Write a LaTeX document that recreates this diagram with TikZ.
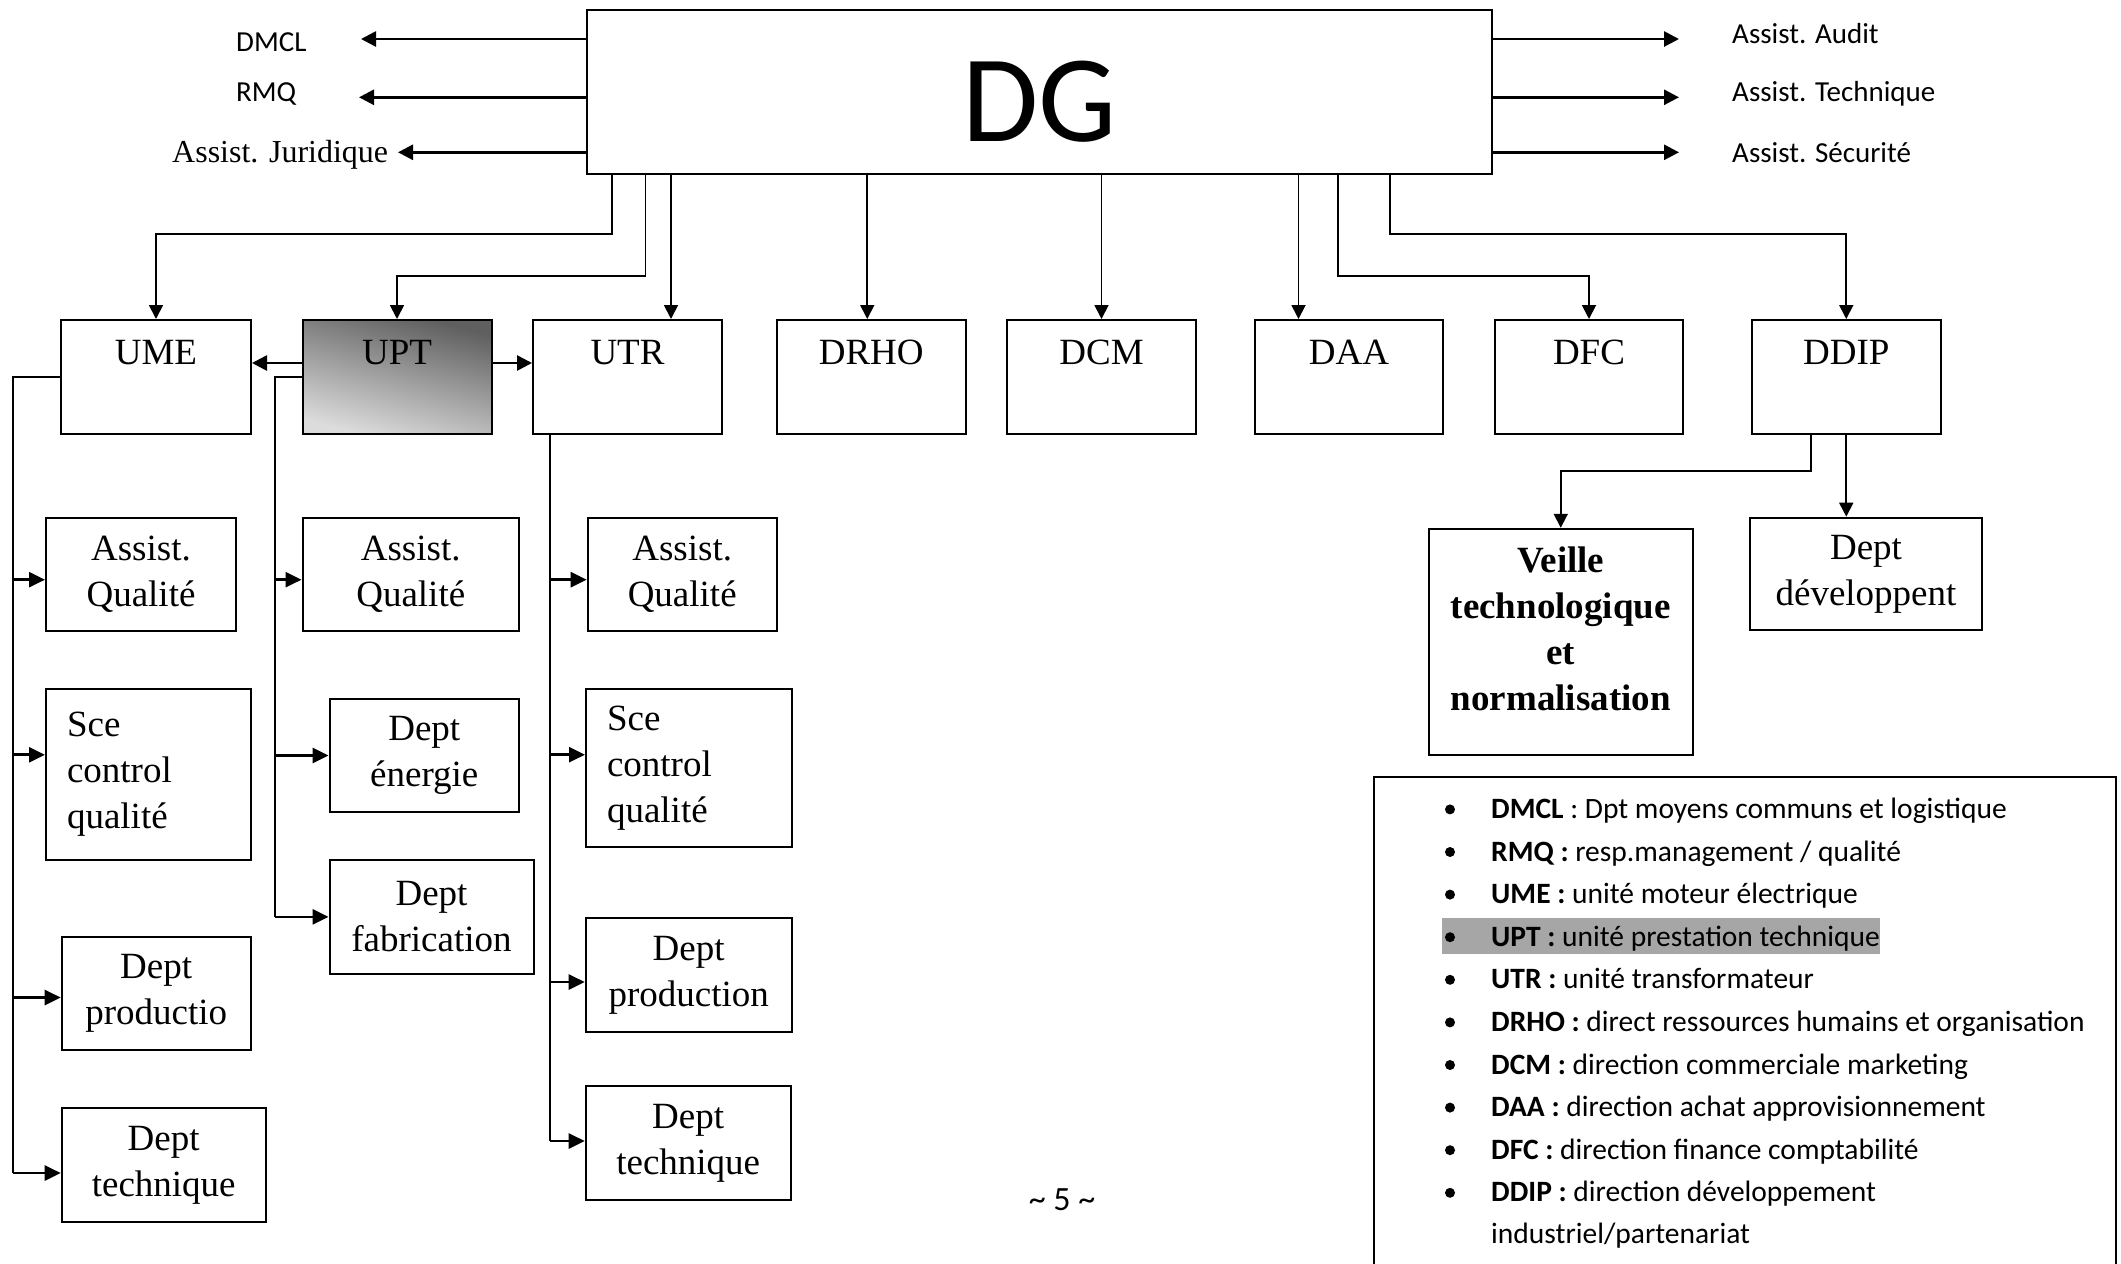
\documentclass[tikz,border=0pt]{standalone}
\usepackage{fontspec}
\setmainfont{Liberation Serif}
\newfontfamily\calfont{Carlito}
\usetikzlibrary{arrows.meta}
\definecolor{uptdark}{RGB}{95,95,95}
\definecolor{uptlight}{RGB}{220,220,220}
\definecolor{hlgray}{RGB}{166,166,166}
\newcommand\tnrfont{\fontsize{37}{46}\selectfont}
\newcommand\tnrsmall{\fontsize{32}{38}\selectfont}
\newcommand\calsmall{\calfont\fontsize{29}{35}\selectfont}
\newcommand\callegend{\calfont\fontsize{29.5}{36}\selectfont}
\newcommand\dgfont{\calfont\fontsize{124}{130}\selectfont}
\begin{document}
\begin{tikzpicture}[x=1pt,y=-1pt,
  box/.style={draw, line width=2pt, inner sep=0pt, anchor=north west, font=\tnrfont, align=center},
  unitbox/.style={box, text height=25pt, text depth=51pt, minimum height=114pt},
  scebox/.style={box, align=left, inner xsep=21pt},
  conn/.style={line width=1.8pt},
  arr/.style={line width=1.8pt, -{Triangle[length=14pt,width=14pt]}},
  bigarr/.style={line width=2.7pt, -{Triangle[length=15pt,width=15pt]}},
  stub/.style={line width=2.7pt, -{Triangle[length=16pt,width=15pt]}},
  sidetxt/.style={anchor=base west, inner sep=0pt, font=\calsmall},
  legtext/.style={anchor=base west, inner sep=0pt, font=\callegend},
  bullet/.style={circle, fill, inner sep=0pt, minimum size=10pt}
]
\useasboundingbox (0,0) rectangle (2121,1264);

% ---------- DG ----------
\node[box, minimum width=905pt, minimum height=164pt, font=\dgfont, text height=99pt, text depth=0pt] (dg) at (586,9) {DG};

% side labels
\node[sidetxt] (dmcl) at (236,51.7) {DMCL};
\node[sidetxt] (rmq) at (236,101.7) {RMQ};
\node[sidetxt, font=\tnrsmall] (jur) at (172,162.7) {Assist. Juridique};
\node[sidetxt] (audit) at (1732,43.3) {Assist. Audit};
\node[sidetxt] (techn) at (1732,101.7) {Assist. Technique};
\node[sidetxt] (secu) at (1732,162.3) {Assist. Sécurité};

\coordinate (eDMCL) at (361,39);
\coordinate (eRMQ) at (359,97.3);
\coordinate (eJUR) at (398,152.3);
\coordinate (eAUD) at (1679,39);
\coordinate (eTEC) at (1679,97.3);
\coordinate (eSEC) at (1679,152.3);
\draw[bigarr] (dg.west |- eDMCL) -- (eDMCL);
\draw[bigarr] (dg.west |- eRMQ) -- (eRMQ);
\draw[bigarr] (dg.west |- eJUR) -- (eJUR);
\draw[bigarr] (dg.east |- eAUD) -- (eAUD);
\draw[bigarr] (dg.east |- eTEC) -- (eTEC);
\draw[bigarr] (dg.east |- eSEC) -- (eSEC);

% ---------- top row ----------
\node[unitbox, minimum width=190pt] (ume) at (60,319) {UME};
\node[unitbox, minimum width=189pt, top color=uptdark, bottom color=uptlight, shading angle=-15] (upt) at (301.5,319) {UPT};
\node[unitbox, minimum width=189pt] (utr) at (532,319) {UTR};
\node[unitbox, minimum width=188.5pt] (drho) at (776,319) {DRHO};
\node[unitbox, minimum width=189pt] (dcm) at (1006,319) {DCM};
\node[unitbox, minimum width=188pt] (daa) at (1254,319) {DAA};
\node[unitbox, minimum width=188pt] (dfc) at (1494,319) {DFC};
\node[unitbox, minimum width=188.5pt] (ddip) at (1751,319) {DDIP};

% DG -> top row
\draw[arr] ([xshift=26pt]dg.south west) |- ([yshift=85pt]ume.north) -- (ume.north);
\draw[arr] ([xshift=59.5pt]dg.south west) |- ([yshift=43pt]upt.north) -- (upt.north);
\coordinate (utrIn) at ([xshift=43.5pt]utr.north);
\draw[arr] (dg.south -| utrIn) -- (utrIn);
\coordinate (drhoIn) at ([xshift=-4pt]drho.north);
\draw[arr] (dg.south -| drhoIn) -- (drhoIn);
\draw[arr] (dg.south -| dcm.north) -- (dcm.north);
\coordinate (daaIn) at ([xshift=-50.5pt]daa.north);
\draw[arr] (dg.south -| daaIn) -- (daaIn);
\draw[arr] ([xshift=751.7pt]dg.south west) |- ([yshift=43pt]dfc.north) -- (dfc.north);
\draw[arr] ([xshift=804pt]dg.south west) |- ([yshift=85pt]ddip.north) -- (ddip.north);

% UPT -> UME, UTR
\draw[bigarr] ([yshift=14pt]upt.west) -- ([yshift=14pt]ume.east);
\draw[bigarr] ([yshift=14pt]upt.east) -- ([yshift=14pt]utr.west);

% ---------- column 1 (UME) ----------
\node[box, minimum width=190pt, minimum height=113pt] (aq1) at (45,516.7) {Assist.\\Qualité};
\node[scebox, text width=163pt, minimum width=205pt, minimum height=171pt] (sce1) at (45,687.7) {Sce\\control\\qualité};
\node[box, minimum width=189pt, minimum height=113pt] (prod1) at (60.7,935.7) {Dept\\productio};
\node[box, minimum width=204pt, minimum height=114pt] (tech1) at (60.7,1107) {Dept\\technique};

\coordinate (c1) at ([xshift=-47pt]ume.west);
\coordinate (aq1in) at ([yshift=-5.5pt]aq1.west);
\coordinate (sce1in) at ([yshift=19.4pt]sce1.west);
\coordinate (prod1in) at ([yshift=-4.3pt]prod1.west);
\coordinate (tech1in) at ([yshift=-8pt]tech1.west);
\draw[conn] (ume.west) -- (c1) -- (c1 |- tech1in);
\draw[stub] (c1 |- aq1in) -- (aq1in);
\draw[stub] (c1 |- sce1in) -- (sce1in);
\draw[stub] (c1 |- prod1in) -- (prod1in);
\draw[stub] (c1 |- tech1in) -- (tech1in);

% ---------- column 2 (UPT) ----------
\node[box, minimum width=216.5pt, minimum height=113pt] (aq2) at (301.5,516.7) {Assist.\\Qualité};
\node[box, minimum width=189.5pt, minimum height=113.6pt] (ener2) at (328.5,697.7) {Dept\\énergie};
\node[box, minimum width=204pt, minimum height=113.7pt] (fab2) at (328.5,859) {Dept\\fabrication};

\coordinate (c2) at ([xshift=-26.5pt]upt.west);
\coordinate (aq2in) at ([yshift=-5.5pt]aq2.west);
\draw[conn] (upt.west) -- (c2) -- (c2 |- fab2.west);
\draw[stub] (c2 |- aq2in) -- (aq2in);
\draw[stub] (c2 |- ener2.west) -- (ener2.west);
\draw[stub] (c2 |- fab2.west) -- (fab2.west);

% ---------- column 3 (UTR) ----------
\node[box, minimum width=189pt, minimum height=113pt] (aq3) at (586.7,516.7) {Assist.\\Qualité};
\node[scebox, text width=164pt, minimum width=206pt, minimum height=158pt] (sce3) at (585,687.7) {Sce\\control\\qualité};
\node[box, minimum width=206pt, minimum height=114pt] (prod3) at (584.7,917) {Dept\\production};
\node[box, minimum width=205pt, minimum height=114pt] (tech3) at (584.7,1085) {Dept\\technique};

\coordinate (c3) at ([xshift=18pt]utr.south west);
\coordinate (aq3in) at ([yshift=-5.5pt]aq3.west);
\coordinate (sce3in) at ([yshift=13pt]sce3.west);
\coordinate (prod3in) at ([yshift=-7pt]prod3.west);
\coordinate (tech3in) at ([yshift=2pt]tech3.west);
\draw[conn] (c3) -- (c3 |- tech3in);
\draw[stub] (c3 |- aq3in) -- (aq3in);
\draw[stub] (c3 |- sce3in) -- (sce3in);
\draw[stub] (c3 |- prod3in) -- (prod3in);
\draw[stub] (c3 |- tech3in) -- (tech3in);

% ---------- DDIP children ----------
\node[box, minimum width=264.5pt, minimum height=226pt, font=\tnrfont\bfseries] (veille) at (1427.5,527.8) {Veille\\technologique\\et\\normalisation\rule[-26pt]{0pt}{26pt}};
\node[box, minimum width=232pt, minimum height=112.5pt] (ddev) at (1749,516.7) {Dept\\développent};
\coordinate (ddipL) at ([xshift=-35pt]ddip.south);
\draw[arr] (ddipL) |- ([yshift=57pt]veille.north) -- (veille.north);
\draw[arr] (ddip.south) -- (ddip.south |- ddev.north);

% ---------- legend ----------
\draw[line width=2pt] (1374,1275) |- (2116,776.5) -- (2116,1275);
\fill[hlgray] (1442,918) rectangle (1880,954);
\node[bullet] (b1) at (1450,809.4) {};
\node[bullet] (b2) at (1450,852.0) {};
\node[bullet] (b3) at (1450,894.6) {};
\node[bullet] (b4) at (1450,937.2) {};
\node[bullet] (b5) at (1450,979.8) {};
\node[bullet] (b6) at (1450,1022.4) {};
\node[bullet] (b7) at (1450,1065.0) {};
\node[bullet] (b8) at (1450,1107.6) {};
\node[bullet] (b9) at (1450,1150.2) {};
\node[bullet] (b10) at (1450,1192.8) {};
\node[legtext] (l1) at (1491,818.4) {\textbf{DMCL} : Dpt moyens communs et logistique};
\node[legtext] (l2) at (1491,861.0) {\textbf{RMQ :} resp.management / qualité};
\node[legtext] (l3) at (1491,903.6) {\textbf{UME :} unité moteur électrique};
\node[legtext] (l4) at (1491,946.2) {\textbf{UPT :} unité prestation technique};
\node[legtext] (l5) at (1491,988.8) {\textbf{UTR :} unité transformateur};
\node[legtext] (l6) at (1491,1031.4) {\textbf{DRHO :} direct ressources humains et organisation};
\node[legtext] (l7) at (1491,1074.0) {\textbf{DCM :} direction commerciale marketing};
\node[legtext] (l8) at (1491,1116.6) {\textbf{DAA :} direction achat approvisionnement};
\node[legtext] (l9) at (1491,1159.2) {\textbf{DFC :} direction finance comptabilité};
\node[legtext] (l10) at (1491,1201.8) {\textbf{DDIP :} direction développement};
\node[legtext] (l11) at (1491,1243.5) {industriel/partenariat};

% page number
\node[inner sep=0pt, font=\calfont\fontsize{34}{40}\selectfont] (pg) at (1062,1200) {\textasciitilde{} 5 \textasciitilde};
\end{tikzpicture}
\end{document}
